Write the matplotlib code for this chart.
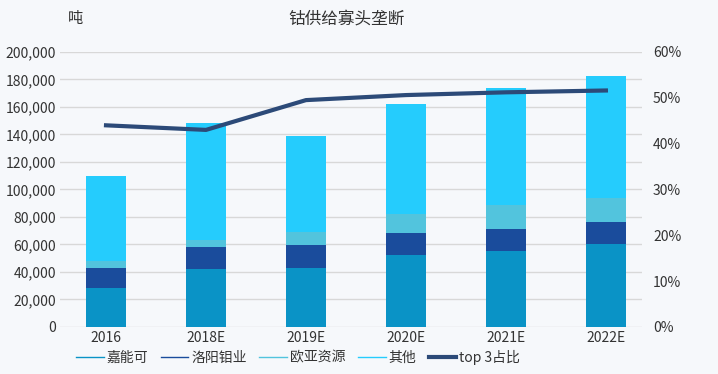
import matplotlib.pyplot as plt
import numpy as np
from matplotlib.lines import Line2D

plt.rcParams['font.family'] = ['Noto Sans CJK SC', 'DejaVu Sans']

years = ['2016', '2018E', '2019E', '2020E', '2021E', '2022E']
glencore = [28000, 42000, 43000, 52000, 55000, 60000]       # 嘉能可
cmoc = [15000, 16500, 16500, 16000, 16000, 16000]           # 洛阳钼业
erg = [5000, 4500, 9500, 14000, 17500, 17500]               # 欧亚资源
others = [62000, 85000, 70000, 80000, 85500, 89000]         # 其他
top3 = [0.44, 0.43, 0.495, 0.506, 0.512, 0.516]

c_gl = '#0a93c6'
c_cm = '#1a4c9c'
c_erg = '#52c4dd'
c_oth = '#25ccfd'
c_line = '#2c4a78'

fig = plt.figure(figsize=(7.18, 3.74), dpi=100, facecolor='#f6f8fb')
ax = fig.add_axes([0.0836, 0.1257, 0.8104, 0.7353])
ax.set_facecolor('#f6f8fb')

x = np.arange(len(years))
w = 0.4
b1 = np.array(glencore)
b2 = b1 + np.array(cmoc)
b3 = b2 + np.array(erg)
ax.bar(x, glencore, w, color=c_gl, zorder=2)
ax.bar(x, cmoc, w, bottom=b1, color=c_cm, zorder=2)
ax.bar(x, erg, w, bottom=b2, color=c_erg, zorder=2)
ax.bar(x, others, w, bottom=b3, color=c_oth, zorder=2)

ax.set_ylim(0, 200000)
ax.set_yticks(np.arange(0, 200001, 20000))
ax.set_yticklabels([f'{v:,}' for v in range(0, 200001, 20000)])
ax.set_xlim(-0.46, 5.36)
ax.set_xticks(x)
ax.set_xticklabels(years)
ax.grid(axis='y', color='#d8d8d8', linewidth=1, zorder=0)
for s in ax.spines.values():
    s.set_visible(False)
ax.tick_params(length=0, labelsize=10, colors='#333333', pad=3)

ax2 = ax.twinx()
ax2.plot(x, top3, color=c_line, linewidth=3, zorder=5)
ax2.set_ylim(0, 0.6)
ax2.set_yticks(np.arange(0, 0.61, 0.1))
ax2.set_yticklabels([f'{int(round(v*100))}%' for v in np.arange(0, 0.61, 0.1)])
for s in ax2.spines.values():
    s.set_visible(False)
ax2.tick_params(length=0, labelsize=10, colors='#333333', pad=8)

fig.text(0.095, 0.95, '吨', fontsize=11, color='#333333', ha='left', va='center')
fig.text(0.482, 0.95, '钴供给寡头垄断', fontsize=12, color='#333333', ha='center', va='center')

handles = [
    Line2D([], [], color=c_gl, linewidth=1),
    Line2D([], [], color=c_cm, linewidth=1),
    Line2D([], [], color=c_erg, linewidth=1),
    Line2D([], [], color=c_oth, linewidth=1),
    Line2D([], [], color=c_line, linewidth=3),
]
labels = ['嘉能可', '洛阳钼业', '欧亚资源', '其他', 'top 3占比']
fig.legend(handles, labels, loc='center', bbox_to_anchor=(0.415, 0.045), ncol=5,
           frameon=False, fontsize=10, handlelength=2.0, handletextpad=0.2,
           columnspacing=0.9, labelcolor='#333333')

fig.savefig('out.png', dpi=100, facecolor=fig.get_facecolor())
